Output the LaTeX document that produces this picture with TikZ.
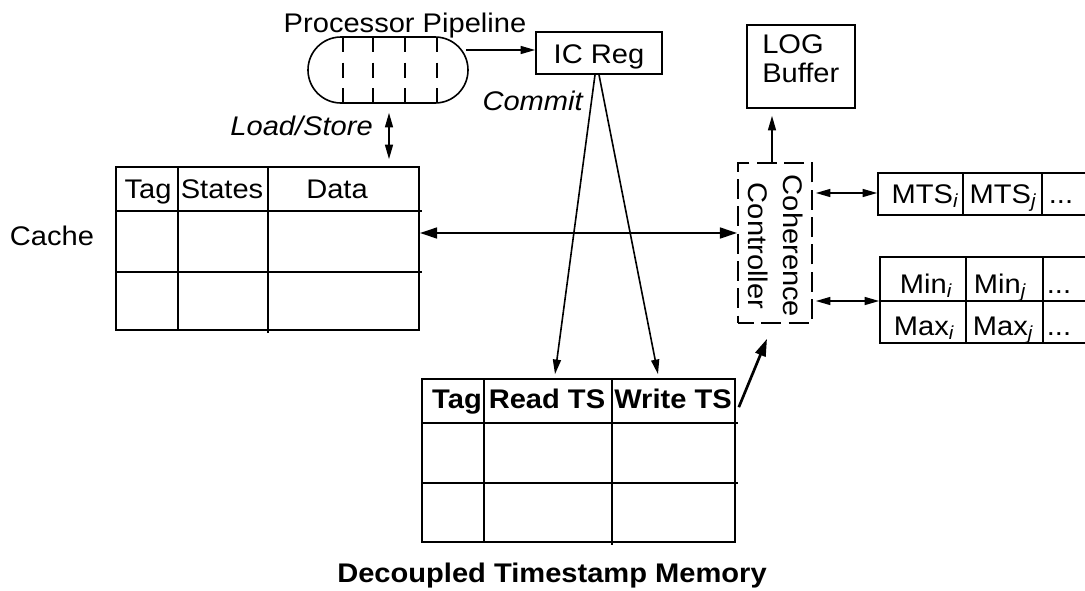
\documentclass[tikz,border=0pt]{standalone}
\usepackage{fontspec}
\setmainfont{Liberation Sans}[FakeStretch=1.08]
\usetikzlibrary{arrows.meta,fit,calc}
\begin{document}
\begin{tikzpicture}[x=0.75pt,y=-0.75pt,
  font=\fontsize{20.2}{23}\selectfont,
  box/.style={draw, line width=1.2pt, inner sep=0pt},
  grid/.style={line width=1.2pt},
  conn/.style={line width=1.2pt},
  heavy/.style={line width=2pt},
  tip/.style={-{Triangle[length=11pt,width=6pt]}},
  tips/.style={{Triangle[length=11pt,width=6pt]}-{Triangle[length=11pt,width=6pt]}},
  bigtip/.style={-{Triangle[length=13pt,width=8pt]}},
  bigtips/.style={{Triangle[length=13pt,width=8pt]}-{Triangle[length=13pt,width=8pt]}},
  lbl/.style={anchor=base, inner sep=0pt},
  boldlbl/.style={lbl, font=\fontsize{20.2}{23}\selectfont\bfseries},
  itlbl/.style={lbl, anchor=base east, font=\fontsize{20.2}{23}\selectfont\itshape}]
\clip (0,0) rectangle (1085,590);
\fill[white] (0,0) rectangle (1085,590);

% ---- processor pipeline ----
\node[box, rounded corners=24.7pt, fit={(308,37) (468,103)}] (pipe) {};
\foreach \x in {343,373,405,437}
  \draw[grid, dash pattern=on 11.25pt off 7.9pt] (\x,37) -- (\x,103);
\node[lbl] (pipelbl) at (405,32) {Processor Pipeline};

% ---- IC register ----
\node[box, fit={(536,32) (662,74)}] (icreg) {};
\node[lbl] (iclbl) at (599,63) {IC Reg};

% ---- LOG buffer ----
\node[box, fit={(747,25) (855,108)}] (logbuf) {};
\node[lbl, anchor=base west] (loglbl) at (762,53) {LOG};
\node[lbl, anchor=base west] (buflbl) at (762,82) {Buffer};

% ---- cache ----
\node[box, fit={(116,167) (419,330)}] (cache) {};
\draw[grid] (116,211) -- (422,211) (116,272) -- (422,272)
            (178,167) -- (178,330) (268,167) -- (268,333);
\node[lbl] (ctag) at (148,198) {Tag};
\node[lbl] (cstates) at (222,198) {States};
\node[lbl] (cdata) at (337,198) {Data};
\node[lbl] (cachelbl) at (52,245) {Cache};

% ---- decoupled timestamp memory ----
\node[box, fit={(422,379) (735,542)}] (tsmem) {};
\draw[grid] (422,423) -- (738,423) (422,483) -- (738,483)
            (484,379) -- (484,542) (612,379) -- (612,545);
\node[boldlbl] (ttag) at (457,408) {Tag};
\node[boldlbl] (tread) at (547,408) {Read TS};
\node[boldlbl] (twrite) at (673,408) {Write TS};
\node[boldlbl] (tslbl) at (552,582) {Decoupled Timestamp Memory};

% ---- coherence controller ----
\node[draw, line width=1.2pt, dash pattern=on 15pt off 5.5pt, dash phase=3pt,
      inner sep=0pt, fit={(738,163) (812,323)}] (ctrl) {};
\node[rotate=-90, align=center, font=\fontsize{20.2}{26.25}\selectfont]
      (ctrllbl) at (776,246) {Coherence\\Controller};

% ---- MTS row ----
\node[box, fit={(878,173) (1100,215)}] (mts) {};
\draw[grid] (963,173) -- (963,215) (1042,173) -- (1042,215);
\node[lbl] (mtsi) at (925,203) {MTS\textsubscript{\itshape i}};
\node[lbl] (mtsj) at (1003,203) {MTS\textsubscript{\itshape j}};
\node[lbl] (mtsd) at (1061,203) {...};

% ---- Min / Max table ----
\node[box, fit={(880,257) (1100,343)}] (minmax) {};
\draw[grid] (880,301) -- (1100,301) (966,257) -- (966,343) (1043,257) -- (1043,343);
\node[lbl] (mini) at (926,293) {Min\textsubscript{\itshape i}};
\node[lbl] (minj) at (1000,293) {Min\textsubscript{\itshape j}};
\node[lbl] (mind) at (1059,293) {...};
\node[lbl] (maxi) at (924,335) {Max\textsubscript{\itshape i}};
\node[lbl] (maxj) at (1003,335) {Max\textsubscript{\itshape j}};
\node[lbl] (maxd) at (1059,335) {...};

% ---- labels on connectors ----
\node[itlbl] (commit) at (583,110) {Commit};
\node[itlbl] (ldst) at (373,135) {Load/Store};

% ---- connectors ----
\coordinate (lstop) at ($(pipe.south)+(1,9)$);
\draw[conn, tip] ($(pipe.east)+(-3,-20)$) -- (icreg.west |- 0,50);
\draw[conn, tips] (lstop) -- ($(lstop |- cache.north)+(0,-7)$);
\draw[conn, tip] ($(icreg.south)+(-4,0)$) -- ($(tsmem.north)+(-23.5,-4)$);
\draw[conn, tip] (icreg.south) -- ($(tsmem.north)+(79.5,-4)$);
\draw[heavy, bigtips] (cache.east |- 0,233) -- (ctrl.west |- 0,233);
\draw[heavy, bigtip] ($(tsmem.north east)+(3,29)$) -- ($(ctrl.south)+(-8,15)$);
\draw[conn, tip] (ctrl.north -| 772,0) -- ($(logbuf.south -| 772,0)+(0,7)$);
\draw[conn, tips] ($(ctrl.east |- 0,193)+(3,0)$) -- (mts.west |- 0,193);
\draw[conn, tips] ($(ctrl.east |- 0,301)+(3,0)$) -- (minmax.west |- 0,301);
\end{tikzpicture}
\end{document}
